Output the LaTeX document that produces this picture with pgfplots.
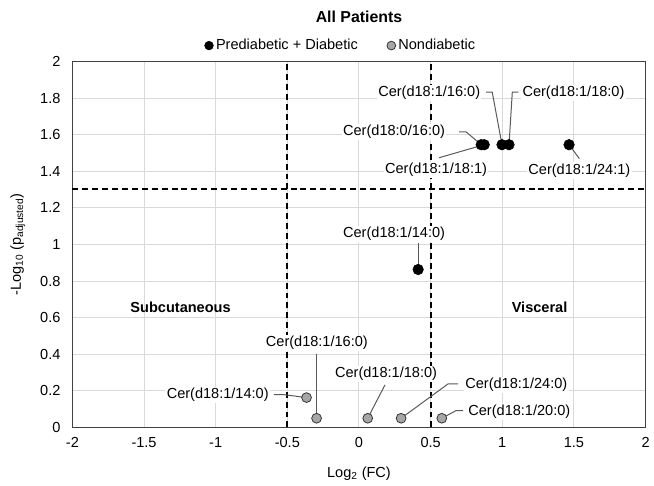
\documentclass[border=0pt]{standalone}
\usepackage{pgfplots}
\pgfplotsset{compat=1.18}
\usepackage{fontspec}
\setmainfont{Liberation Sans}
\definecolor{gridgray}{HTML}{D9D9D9}
\definecolor{ndgray}{HTML}{A6A6A6}
\definecolor{leadgray}{HTML}{595959}
\tikzset{lbl/.style={fill=white, inner sep=1bp}}
\begin{document}
\begin{tikzpicture}[font=\fontsize{11bp}{13bp}\selectfont]
\begin{axis}[
  at={(0,0)}, anchor=south west,
  scale only axis, width=433.5bp, height=276.75bp,
  xmin=-2, xmax=2, ymin=0, ymax=2,
  xtick={-2,-1.5,-1,-0.5,0,0.5,1,1.5,2},
  xticklabels={-2,-1.5,-1,-0.5,0,0.5,1,1.5,2},
  ytick={0,0.2,0.4,0.6,0.8,1,1.2,1.4,1.6,1.8,2},
  yticklabels={0,0.2,0.4,0.6,0.8,1,1.2,1.4,1.6,1.8,2},
  grid=major, major grid style={gridgray, line width=0.75bp},
  major tick length=0pt,
  axis line style={black!75, line width=0.9bp},
  xticklabel style={yshift=-4bp},
  yticklabel style={xshift=-5.5bp},
  xlabel={Log\textsubscript{2} (FC)},
  ylabel={-Log\textsubscript{10} (p\textsubscript{adjusted})},
  xlabel style={at={(axis description cs:0.5,-0.1274)}, anchor=center},
  ylabel style={at={(axis description cs:-0.0952,0.5)}, anchor=center},
  title={All Patients},
  title style={at={(axis description cs:0.5,1.100)}, anchor=center, font=\bfseries\fontsize{12bp}{14bp}\selectfont},
  legend style={at={(axis description cs:0.469,1.0434)}, anchor=center, draw=none, fill=none,
    legend columns=2, /tikz/every even column/.append style={column sep=20bp}, inner sep=0pt,
    font=\fontsize{11bp}{13bp}\selectfont},
  legend image code/.code={\draw[#1, mark size=3.3bp] plot coordinates {(0bp,0bp)};},
  clip=false,
]
% reference lines
\addplot[black, line width=1.4bp, dash pattern=on 4.5bp off 3bp, forget plot] coordinates {(-0.5,0) (-0.5,2)};
\addplot[black, line width=1.4bp, dash pattern=on 4.5bp off 3bp, forget plot] coordinates {(0.5,0) (0.5,2)};
\addplot[black, line width=1.4bp, dash pattern=on 4.5bp off 3bp, forget plot] coordinates {(-2,1.301) (2,1.301)};
% leader lines
\addplot[leadgray, line width=0.75bp, forget plot] coordinates {(0.699,1.615) (0.748,1.615) (0.853,1.545)};
\addplot[leadgray, line width=0.75bp, forget plot] coordinates {(0.559,1.474) (0.874,1.545)};
\addplot[leadgray, line width=0.75bp, forget plot] coordinates {(0.888,1.832) (0.930,1.832) (0.998,1.545)};
\addplot[leadgray, line width=0.75bp, forget plot] coordinates {(1.112,1.832) (1.070,1.832) (1.047,1.545)};
\addplot[leadgray, line width=0.75bp, forget plot] coordinates {(1.466,1.545) (1.538,1.469)};
\addplot[leadgray, line width=0.75bp, forget plot] coordinates {(0.413,1.008) (0.413,0.863)};
\addplot[leadgray, line width=0.75bp, forget plot] coordinates {(-0.594,0.179) (-0.524,0.179) (-0.366,0.163)};
\addplot[leadgray, line width=0.75bp, forget plot] coordinates {(-0.296,0.401) (-0.296,0.05)};
\addplot[leadgray, line width=0.75bp, forget plot] coordinates {(0.182,0.233) (0.061,0.05)};
\addplot[leadgray, line width=0.75bp, forget plot] coordinates {(0.692,0.238) (0.622,0.238) (0.294,0.05)};
\addplot[leadgray, line width=0.75bp, forget plot] coordinates {(0.727,0.092) (0.678,0.092) (0.578,0.05)};
% data
\addplot[only marks, mark=*, mark size=4bp, mark options={fill=black, draw=black}] coordinates {
  (0.853,1.545) (0.874,1.545) (0.998,1.545) (1.047,1.545) (1.466,1.545) (0.413,0.863)};
\addlegendentry{Prediabetic + Diabetic}
\addplot[only marks, mark=*, mark size=3.7bp, mark options={fill=ndgray, draw=black!80, line width=0.6bp}] coordinates {
  (-0.366,0.163) (-0.296,0.05) (0.061,0.05) (0.294,0.05) (0.578,0.05)};
\addlegendentry{Nondiabetic}
% labels
\node[lbl] at (axis cs:0.245,1.615) {Cer(d18:0/16:0)};
\node[lbl] at (axis cs:0.538,1.409) {Cer(d18:1/18:1)};
\node[lbl] at (axis cs:0.490,1.827) {Cer(d18:1/16:0)};
\node[lbl] at (axis cs:1.497,1.827) {Cer(d18:1/18:0)};
\node[lbl] at (axis cs:1.538,1.404) {Cer(d18:1/24:1)};
\node[lbl] at (axis cs:0.245,1.057) {Cer(d18:1/14:0)};
\node[lbl] at (axis cs:-0.986,0.179) {Cer(d18:1/14:0)};
\node[lbl] at (axis cs:-0.294,0.461) {Cer(d18:1/16:0)};
\node[lbl] at (axis cs:0.189,0.293) {Cer(d18:1/18:0)};
\node[lbl] at (axis cs:1.098,0.233) {Cer(d18:1/24:0)};
\node[lbl] at (axis cs:1.119,0.087) {Cer(d18:1/20:0)};
\node[font=\bfseries\fontsize{11bp}{13bp}\selectfont] at (axis cs:-1.245,0.656) {Subcutaneous};
\node[font=\bfseries\fontsize{11bp}{13bp}\selectfont] at (axis cs:1.26,0.656) {Visceral};
\end{axis}
\path[use as bounding box] (-54.75bp,-43.5bp) rectangle (435.75bp,323.25bp);
\end{tikzpicture}
\end{document}
